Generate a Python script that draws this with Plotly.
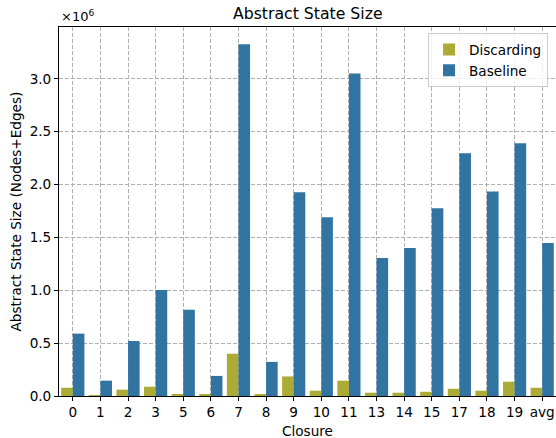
import plotly.graph_objects as go

categories = ["0", "1", "2", "3", "5", "6", "7", "8", "9", "10", "11", "13", "14", "15", "17", "18", "19", "avg"]
discarding = [0.078, 0.002, 0.060, 0.088, 0.012, 0.012, 0.400, 0.012, 0.185, 0.050, 0.145, 0.031, 0.031, 0.040, 0.068, 0.050, 0.135, 0.078]
baseline = [0.590, 0.145, 0.520, 1.003, 0.815, 0.190, 3.326, 0.323, 1.927, 1.690, 3.050, 1.305, 1.400, 1.776, 2.295, 1.935, 2.390, 1.446]
scale = 1e6
yticks = [0.0, 0.5, 1.0, 1.5, 2.0, 2.5, 3.0]

W, H = 556, 438
L, R, T, B = 59, 0, 27, 42
FONT = "DejaVu Sans"
FS = 13.6

fig = go.Figure()
fig.add_trace(go.Bar(x=list(range(len(categories))), y=[v * scale for v in discarding],
                     name="Discarding", marker=dict(color="#ABAB35", line=dict(width=0))))
fig.add_trace(go.Bar(x=list(range(len(categories))), y=[v * scale for v in baseline],
                     name="Baseline", marker=dict(color="#3274A1", line=dict(width=0))))

fig.update_layout(
    width=W, height=H,
    margin=dict(l=L, r=R, t=T, b=B),
    paper_bgcolor="white", plot_bgcolor="white",
    barmode="group", bargap=0.16, bargroupgap=0,
    font=dict(family=FONT, size=FS, color="black"),
    showlegend=True,
    legend=dict(x=0.984, y=0.983, xanchor="right", yanchor="top",
                bgcolor="rgba(255,255,255,0.8)", bordercolor="#cccccc", borderwidth=1,
                font=dict(family=FONT, size=FS), traceorder="normal",
                itemsizing="constant"),
)
fig.update_xaxes(
    range=[-0.5, len(categories) - 0.5],
    tickmode="array", tickvals=list(range(len(categories))), ticktext=categories,
    showline=True, linecolor="black", linewidth=1, mirror=True,
    ticks="outside", ticklen=4, tickcolor="black",
    showgrid=True, gridcolor="#b0b0b0", griddash="4px,2px", gridwidth=0.8,
    zeroline=False, tickfont=dict(size=FS),
)
fig.update_yaxes(
    range=[0, 3.49 * scale],
    tickmode="array", tickvals=[t * scale for t in yticks], ticktext=[f"{t:.1f}" for t in yticks],
    showline=True, linecolor="black", linewidth=1, mirror=True,
    ticks="outside", ticklen=4, tickcolor="black",
    showgrid=True, gridcolor="#b0b0b0", griddash="4px,2px", gridwidth=0.8,
    zeroline=False, tickfont=dict(size=FS),
)

fig.add_annotation(text="Abstract State Size", xref="paper", yref="paper", x=0.5, y=1,
                   yshift=14, showarrow=False, font=dict(size=15.7, family=FONT),
                   xanchor="center", yanchor="middle")
fig.add_annotation(text="×10<sup>6</sup>", xref="paper", yref="paper", x=0, y=1,
                   yshift=11, showarrow=False, font=dict(size=13, family=FONT),
                   xanchor="left", yanchor="middle")
fig.add_annotation(text="Abstract State Size (Nodes+Edges)", xref="paper", yref="paper",
                   x=0, y=0.5, xshift=-44, showarrow=False, textangle=-90,
                   font=dict(size=FS, family=FONT), xanchor="center", yanchor="middle")
fig.add_annotation(text="Closure", xref="paper", yref="paper", x=0.5, y=0,
                   yshift=-35, showarrow=False, font=dict(size=FS, family=FONT),
                   xanchor="center", yanchor="middle")

fig.write_html("out.html")
